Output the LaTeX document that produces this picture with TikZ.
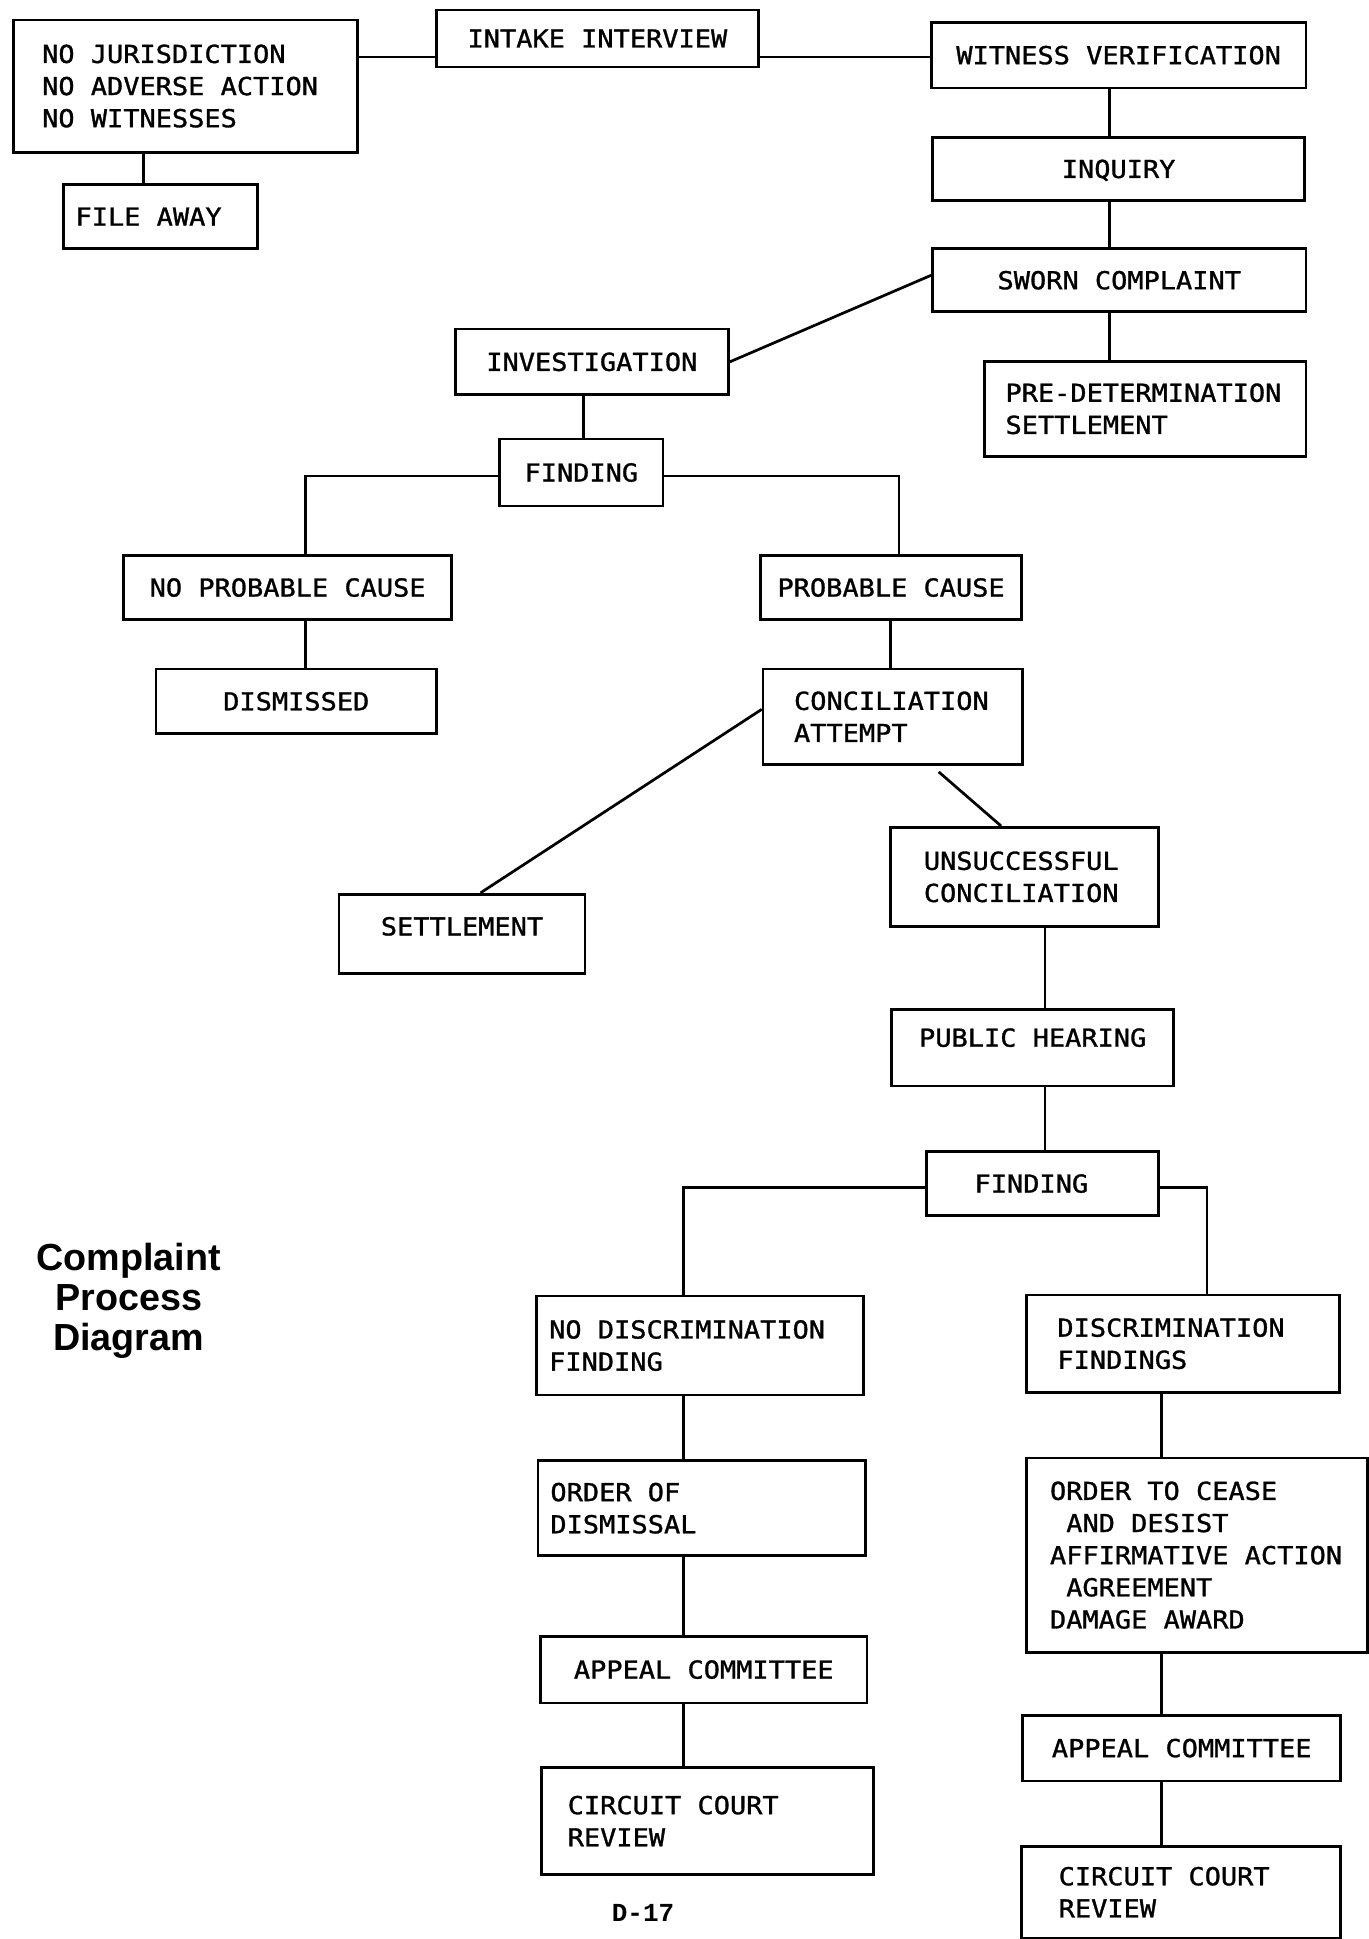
\documentclass[tikz,border=0pt]{standalone}
\usepackage{fontspec}
\usetikzlibrary{calc}
\newfontfamily\tw[FakeStretch=1.09, FakeBold=1.2]{DejaVu Sans Mono}
\newfontfamily\ttlfont{Liberation Sans}
\newfontfamily\pgnumfont{Liberation Mono}
\newcommand\wsp{\spaceskip=13.12pt\relax\xspaceskip=13.12pt\relax}
\begin{document}
\begin{tikzpicture}[x=1pt,y=-1pt,
  boxbase/.style={draw, line width=2.2pt, anchor=north west, inner ysep=0pt,
    font={\tw\fontsize{20pt}{26pt}\selectfont}},
  lbox/.style={boxbase, align=flush left, execute at begin node={\wsp}},
  cbox/.style={boxbase, inner xsep=0pt, align=center, text height=14.6pt, text depth=0pt},
  conn/.style={line width=2.2pt}]
\useasboundingbox (0,0) rectangle (1107,1568);

% top row
\node[lbox, minimum width=278pt, minimum height=107pt, inner xsep=23pt, text width=232pt] (nojur) at (10,15)
  {\wsp NO JURISDICTION\\NO ADVERSE ACTION\\NO WITNESSES};
\node[lbox, minimum width=157pt, minimum height=52pt, inner xsep=10pt, text width=137pt, text height=14.6pt, text depth=0pt] (filea) at (50,148) {\wsp FILE AWAY};
\node[cbox, minimum width=260pt, minimum height=46pt] (intake) at (352,7) {INTAKE INTERVIEW};
\node[cbox, minimum width=303pt, minimum height=53pt] (witness) at (752,17) {WITNESS VERIFICATION};
\node[cbox, minimum width=301pt, minimum height=51pt] (inquiry) at (753,110) {INQUIRY};
\node[cbox, minimum width=302pt, minimum height=51pt] (sworn) at (753,200) {SWORN COMPLAINT};
\node[lbox, minimum width=260pt, minimum height=77pt, inner xsep=17pt, text width=226pt] (predet) at (795,291)
  {\wsp\mbox{PRE-DETERMINATION}\\SETTLEMENT};
\node[cbox, minimum width=221pt, minimum height=53pt] (invest) at (367,265) {INVESTIGATION};
\node[cbox, minimum width=132pt, minimum height=54pt] (findA) at (403,354) {FINDING};
\node[cbox, minimum width=265pt, minimum height=52pt] (npc) at (99,448) {NO PROBABLE CAUSE};
\node[cbox, minimum width=227pt, minimum height=52pt] (dism) at (125,540) {DISMISSED};
\node[cbox, minimum width=211pt, minimum height=52pt] (pc) at (614,448) {PROBABLE CAUSE};
\node[lbox, minimum width=210pt, minimum height=77pt, inner xsep=25pt, text width=160pt] (ca) at (616,540)
  {\wsp CONCILIATION\\ATTEMPT};
\node[cbox, minimum width=199pt, minimum height=64pt, text depth=12pt] (settle) at (273,722) {SETTLEMENT};
\node[lbox, minimum width=217pt, minimum height=80pt, inner xsep=27pt, text width=163pt] (uc) at (719,668)
  {\wsp UNSUCCESSFUL\\CONCILIATION};
\node[cbox, minimum width=228pt, minimum height=62pt, text depth=16pt] (ph) at (720,815) {PUBLIC HEARING};
\node[lbox, minimum width=188pt, minimum height=52pt, inner xsep=39pt, text width=110pt, text height=14.6pt, text depth=0pt] (findB) at (748,930) {\wsp FINDING};
\node[lbox, minimum width=264pt, minimum height=80pt, inner xsep=10pt, text width=244pt] (ndf) at (433,1047)
  {\wsp NO DISCRIMINATION\\FINDING};
\node[lbox, minimum width=253pt, minimum height=79pt, inner xsep=25pt, text width=203pt] (df) at (829,1046)
  {\wsp DISCRIMINATION\\FINDINGS};
\node[lbox, minimum width=265pt, minimum height=77pt, inner xsep=10pt, text width=245pt] (ood) at (434,1180)
  {\wsp ORDER OF\\DISMISSAL};
\node[lbox, minimum width=276pt, minimum height=157pt, inner xsep=19pt, text width=238pt] (otc) at (829,1178)
  {\wsp ORDER TO CEASE\\\phantom{A}AND DESIST\\AFFIRMATIVE ACTION\\\phantom{A}AGREEMENT\\DAMAGE AWARD};
\node[cbox, minimum width=264pt, minimum height=54pt] (acl) at (436,1322) {APPEAL COMMITTEE};
\node[lbox, minimum width=268pt, minimum height=87pt, inner xsep=21pt, text width=226pt] (ccrl) at (437,1428)
  {\wsp CIRCUIT COURT\\REVIEW};
\node[cbox, minimum width=257pt, minimum height=53pt] (acr) at (826,1386) {APPEAL COMMITTEE};
\node[lbox, minimum width=258pt, minimum height=74pt, inner xsep=30pt, text width=198pt] (ccrr) at (825,1492)
  {\wsp CIRCUIT COURT\\REVIEW};

% title and page number
\node[font=\ttlfont\bfseries\fontsize{30.5pt}{32.5pt}\selectfont, align=center] (title) at (104,1052)
  {Complaint\\Process\\Diagram};
\node[font=\pgnumfont\bfseries\fontsize{21pt}{24pt}\selectfont] (pgno) at (520,1547) {D-17};

% helper x positions
\coordinate (xa) at (116,0);
\coordinate (xb) at (897,0);
\coordinate (xc) at (472,0);
\coordinate (xd) at (247,0);
\coordinate (xe) at (727,0);
\coordinate (xf) at (720,0);
\coordinate (xg) at (845,0);
\coordinate (xh) at (553,0);
\coordinate (xi) at (976,0);
\coordinate (xj) at (939,0);
\coordinate (ya) at (0,46);
\coordinate (yb) at (0,385);
\coordinate (yc) at (0,960);

% connectors
\draw[conn] (nojur.east |- ya) -- (intake.west |- ya);
\draw[conn] (intake.east |- ya) -- (witness.west |- ya);
\draw[conn] (nojur.south -| xa) -- (filea.north -| xa);
\draw[conn] (witness.south -| xb) -- (inquiry.north -| xb);
\draw[conn] (inquiry.south -| xb) -- (sworn.north -| xb);
\draw[conn] (sworn.south -| xb) -- (predet.north -| xb);
\draw[conn] (invest.east) -- ($(sworn.west)+(0,-4)$);
\draw[conn] (invest.south -| xc) -- (findA.north -| xc);
\draw[conn] (findA.west |- yb) -| (npc.north -| xd);
\draw[conn] (findA.east |- yb) -| (pc.north -| xe);
\draw[conn] (npc.south -| xd) -- (dism.north -| xd);
\draw[conn] (pc.south -| xf) -- (ca.north -| xf);
\draw[conn] ($(ca.west)+(0,-6)$) -- ($(settle.north)+(15,0)$);
\coordinate (castart) at ($(ca.south)+(37,5)$);
\draw[conn] (castart) -- ($(uc.north)+(-19,0)$);
\draw[conn] (uc.south -| xg) -- (ph.north -| xg);
\draw[conn] (ph.south -| xg) -- (findB.north -| xg);
\draw[conn] (findB.west |- yc) -| (ndf.north -| xh);
\draw[conn] (findB.east |- yc) -| (df.north -| xi);
\draw[conn] (ndf.south -| xh) -- (ood.north -| xh);
\draw[conn] (ood.south -| xh) -- (acl.north -| xh);
\draw[conn] (acl.south -| xh) -- (ccrl.north -| xh);
\draw[conn] (df.south -| xj) -- (otc.north -| xj);
\draw[conn] (otc.south -| xj) -- (acr.north -| xj);
\draw[conn] (acr.south -| xj) -- (ccrr.north -| xj);
\end{tikzpicture}
\end{document}
